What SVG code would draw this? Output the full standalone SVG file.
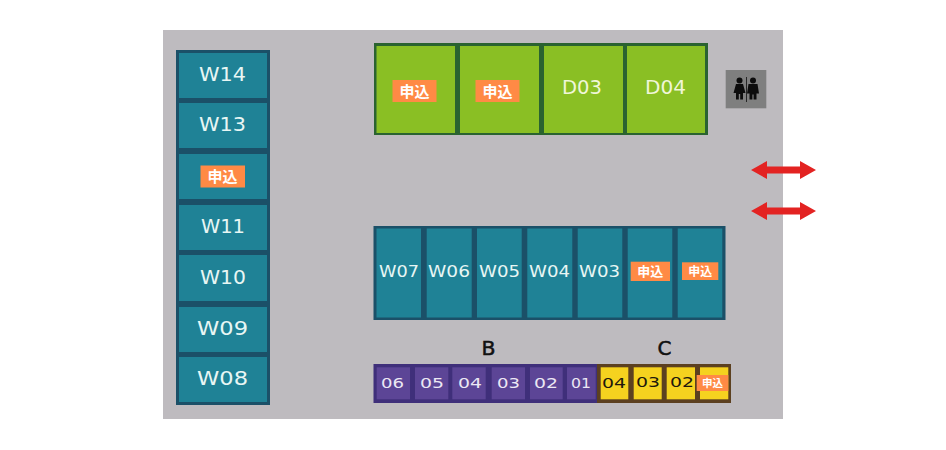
<svg xmlns="http://www.w3.org/2000/svg" width="946" height="450" viewBox="0 0 946 450">
<style>
.t{fill:#1f8296}.tb{fill:#1b5068}
.g{fill:#8abf24}.gb{fill:#2a6330}
.p{fill:#5c4596}.pb{fill:#3f2f7a}
.y{fill:#f5d21f}.yb{fill:#5c4020}
.b{fill:#ff8a45}
text{font-family:"DejaVu Sans","Noto Sans CJK JP",sans-serif;text-anchor:middle;dominant-baseline:central}
.l{fill:#e8f6f4;font-size:19px}
.m{font-size:16px}
.d{fill:#f0f6d8}.w{fill:#ece8f4;font-size:14px}.k{fill:#20180c;font-size:14px}
.j{fill:#fff;font-weight:700;font-family:"Noto Sans CJK JP",sans-serif}
.h{fill:#111;font-size:19px;stroke:#111;stroke-width:.5}
.a{fill:#e32322}
</style>
<defs>
<path id="arrow" class="a" d="M0 0L16-9V-3.500H49V-9L65 0L49 9V3.500H16V9Z"/>
</defs>
<rect width="946" height="450" fill="#fff"/>
<rect id="floor" x="163" y="30" width="620" height="389" fill="#bebbbf"/>

<rect x="176" y="50" width="94" height="355" class="tb"/>
<rect x="373.500" y="226" width="352" height="94" class="tb"/>
<rect x="374" y="43" width="334" height="92" class="gb"/>
<rect x="373.500" y="364" width="224" height="39" class="pb"/>
<rect x="597" y="364" width="134" height="39" class="yb"/>

<g id="W14"><rect x="179" y="53" width="88" height="45" class="t"/><text class="l" x="222.500" y="74" textLength="47" lengthAdjust="spacingAndGlyphs">W14</text></g>
<g id="W13"><rect x="179" y="103" width="88" height="45" class="t"/><text class="l" x="222.500" y="124" textLength="47" lengthAdjust="spacingAndGlyphs">W13</text></g>
<g id="W12"><rect x="179" y="154" width="88" height="45" class="t"/><rect x="200.500" y="165.500" width="44.500" height="22" class="b"/><text class="j" x="222.500" y="175.500" font-size="15">申込</text></g>
<g id="W11"><rect x="179" y="205" width="88" height="45" class="t"/><text class="l" x="223" y="226" textLength="44" lengthAdjust="spacingAndGlyphs">W11</text></g>
<g id="W10"><rect x="179" y="255" width="88" height="46" class="t"/><text class="l" x="223" y="276.500" textLength="46" lengthAdjust="spacingAndGlyphs">W10</text></g>
<g id="W09"><rect x="179" y="307" width="88" height="45" class="t"/><text class="l" x="222.500" y="327.500" textLength="51" lengthAdjust="spacingAndGlyphs">W09</text></g>
<g id="W08"><rect x="179" y="357" width="88" height="45" class="t"/><text class="l" x="222.500" y="378" textLength="51" lengthAdjust="spacingAndGlyphs">W08</text></g>

<g id="D01"><rect x="376.500" y="46" width="78.500" height="87" class="g"/><rect x="392.500" y="80" width="44" height="22" class="b"/><text class="j" x="414.500" y="90" font-size="15">申込</text></g>
<g id="D02"><rect x="460" y="46" width="79" height="87" class="g"/><rect x="475.500" y="80" width="44" height="22" class="b"/><text class="j" x="497.500" y="90" font-size="15">申込</text></g>
<g id="D03"><rect x="544" y="46" width="79" height="87" class="g"/><text class="l d" x="582" y="86.500" textLength="40" lengthAdjust="spacingAndGlyphs">D03</text></g>
<g id="D04"><rect x="627" y="46" width="78" height="87" class="g"/><text class="l d" x="665.500" y="86.500" textLength="41" lengthAdjust="spacingAndGlyphs">D04</text></g>

<g id="restroom">
<rect x="725.700" y="70" width="40.600" height="38.300" fill="#7f7f7f"/>
<rect x="746" y="77" width="0.800" height="25" fill="#111"/>
<circle cx="739.500" cy="80.500" r="3" fill="#0c0c0c"/>
<path d="M736 84H743L745.500 93H743V99.500H740.200V94H738.800V99.500H736V93H733.500Z" fill="#0c0c0c"/>
<circle cx="753" cy="80.500" r="3" fill="#0c0c0c"/>
<path d="M748.500 84H757.500L759 93.500H756.500V99.500H753.600V94.500H752.400V99.500H749.500V93.500H747Z" fill="#0c0c0c"/>
</g>

<g id="connectors">
<use href="#arrow" x="751" y="170"/>
<use href="#arrow" x="751" y="211"/>
</g>

<g id="W07"><rect x="376.500" y="228.500" width="44.500" height="89" class="t"/><text class="l m" x="399" y="271" textLength="40" lengthAdjust="spacingAndGlyphs">W07</text></g>
<g id="W06"><rect x="426.700" y="228.500" width="45" height="89" class="t"/><text class="l m" x="449" y="271" textLength="42" lengthAdjust="spacingAndGlyphs">W06</text></g>
<g id="W05"><rect x="477" y="228.500" width="44.700" height="89" class="t"/><text class="l m" x="499.500" y="271" textLength="41" lengthAdjust="spacingAndGlyphs">W05</text></g>
<g id="W04"><rect x="527.300" y="228.500" width="45" height="89" class="t"/><text class="l m" x="549.500" y="271" textLength="41" lengthAdjust="spacingAndGlyphs">W04</text></g>
<g id="W03"><rect x="577.700" y="228.500" width="44.600" height="89" class="t"/><text class="l m" x="599.500" y="271" textLength="41" lengthAdjust="spacingAndGlyphs">W03</text></g>
<g id="W02"><rect x="627.700" y="228.500" width="44.600" height="89" class="t"/><rect x="630.700" y="261.700" width="39.300" height="19.300" class="b"/><text class="j" x="650.300" y="270" font-size="13">申込</text></g>
<g id="W01"><rect x="677.700" y="228.500" width="44.600" height="89" class="t"/><rect x="682" y="262.300" width="36.300" height="17.700" class="b"/><text class="j" x="700.200" y="270" font-size="12">申込</text></g>

<text class="h" x="488.500" y="347.500" textLength="14" lengthAdjust="spacingAndGlyphs">B</text>
<text class="h" x="664.500" y="347.500" textLength="14" lengthAdjust="spacingAndGlyphs">C</text>

<g id="B06"><rect x="376.700" y="367.300" width="33.300" height="32" class="p"/><text class="w" x="392.500" y="382.500" textLength="23" lengthAdjust="spacingAndGlyphs">06</text></g>
<g id="B05"><rect x="415" y="367.300" width="33.300" height="32" class="p"/><text class="w" x="432" y="382.500" textLength="24" lengthAdjust="spacingAndGlyphs">05</text></g>
<g id="B04"><rect x="452.300" y="367.300" width="33.400" height="32" class="p"/><text class="w" x="470" y="382.500" textLength="24" lengthAdjust="spacingAndGlyphs">04</text></g>
<g id="B03"><rect x="491.700" y="367.300" width="33.300" height="32" class="p"/><text class="w" x="508.500" y="382.500" textLength="23" lengthAdjust="spacingAndGlyphs">03</text></g>
<g id="B02"><rect x="530" y="367.300" width="32.700" height="32" class="p"/><text class="w" x="546" y="382.500" textLength="24" lengthAdjust="spacingAndGlyphs">02</text></g>
<g id="B01"><rect x="567" y="367.300" width="28.700" height="32" class="p"/><text class="w" x="581" y="382.500" textLength="20" lengthAdjust="spacingAndGlyphs">01</text></g>

<g id="C04"><rect x="600.700" y="367.300" width="27.600" height="32" class="y"/><text class="k" x="614" y="383" textLength="24" lengthAdjust="spacingAndGlyphs">04</text></g>
<g id="C03"><rect x="633.700" y="367.300" width="28" height="32" class="y"/><text class="k" x="648" y="381.500" textLength="24" lengthAdjust="spacingAndGlyphs">03</text></g>
<g id="C02"><rect x="666.700" y="367.300" width="28.300" height="32" class="y"/><text class="k" x="682" y="381.500" textLength="24" lengthAdjust="spacingAndGlyphs">02</text></g>
<g id="C01"><rect x="700" y="367.300" width="28.300" height="32" class="y"/><rect x="696.700" y="375" width="31.600" height="16" class="b"/><text class="j" x="712.500" y="382.500" font-size="10.500">申込</text></g>
</svg>
